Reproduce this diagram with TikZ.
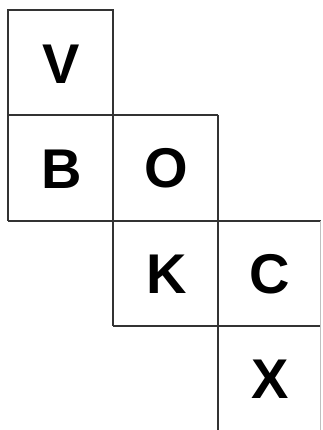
\documentclass[tikz,border=0pt]{standalone}
\usepackage{fontspec}
\setmainfont{Liberation Sans}
\begin{document}
\begin{tikzpicture}[x=1pt,y=-1pt,
  gridline/.style={draw=black!80,line width=2pt},
  faintline/.style={draw=black!25,line width=1.5pt},
  letter/.style={font=\fontsize{56}{56}\selectfont\bfseries,inner sep=0pt}]
\useasboundingbox[fill=white] (0,0) rectangle (322,430);
% grid lines
\draw[gridline] (7.5,220.5) -- (7.5,10.5) -- (113,10.5) -- (113,325.5);
\draw[gridline] (7.5,115.5) -- (218,115.5);
\draw[gridline] (218,115.5) -- (218,430);
\draw[gridline] (7.5,220.5) -- (321,220.5);
\draw[gridline] (113,325.5) -- (321,325.5);
\draw[faintline] (320.5,220.5) -- (320.5,430);
% letters
\node[letter] (v) at (61,64.5) {V};
\node[letter] (b) at (61.5,169) {B};
\node[letter] (o) at (166,168.5) {O};
\node[letter] (k) at (167,274) {K};
\node[letter] (c) at (270,274) {C};
\node[letter] (x) at (270,379) {X};
\end{tikzpicture}
\end{document}
